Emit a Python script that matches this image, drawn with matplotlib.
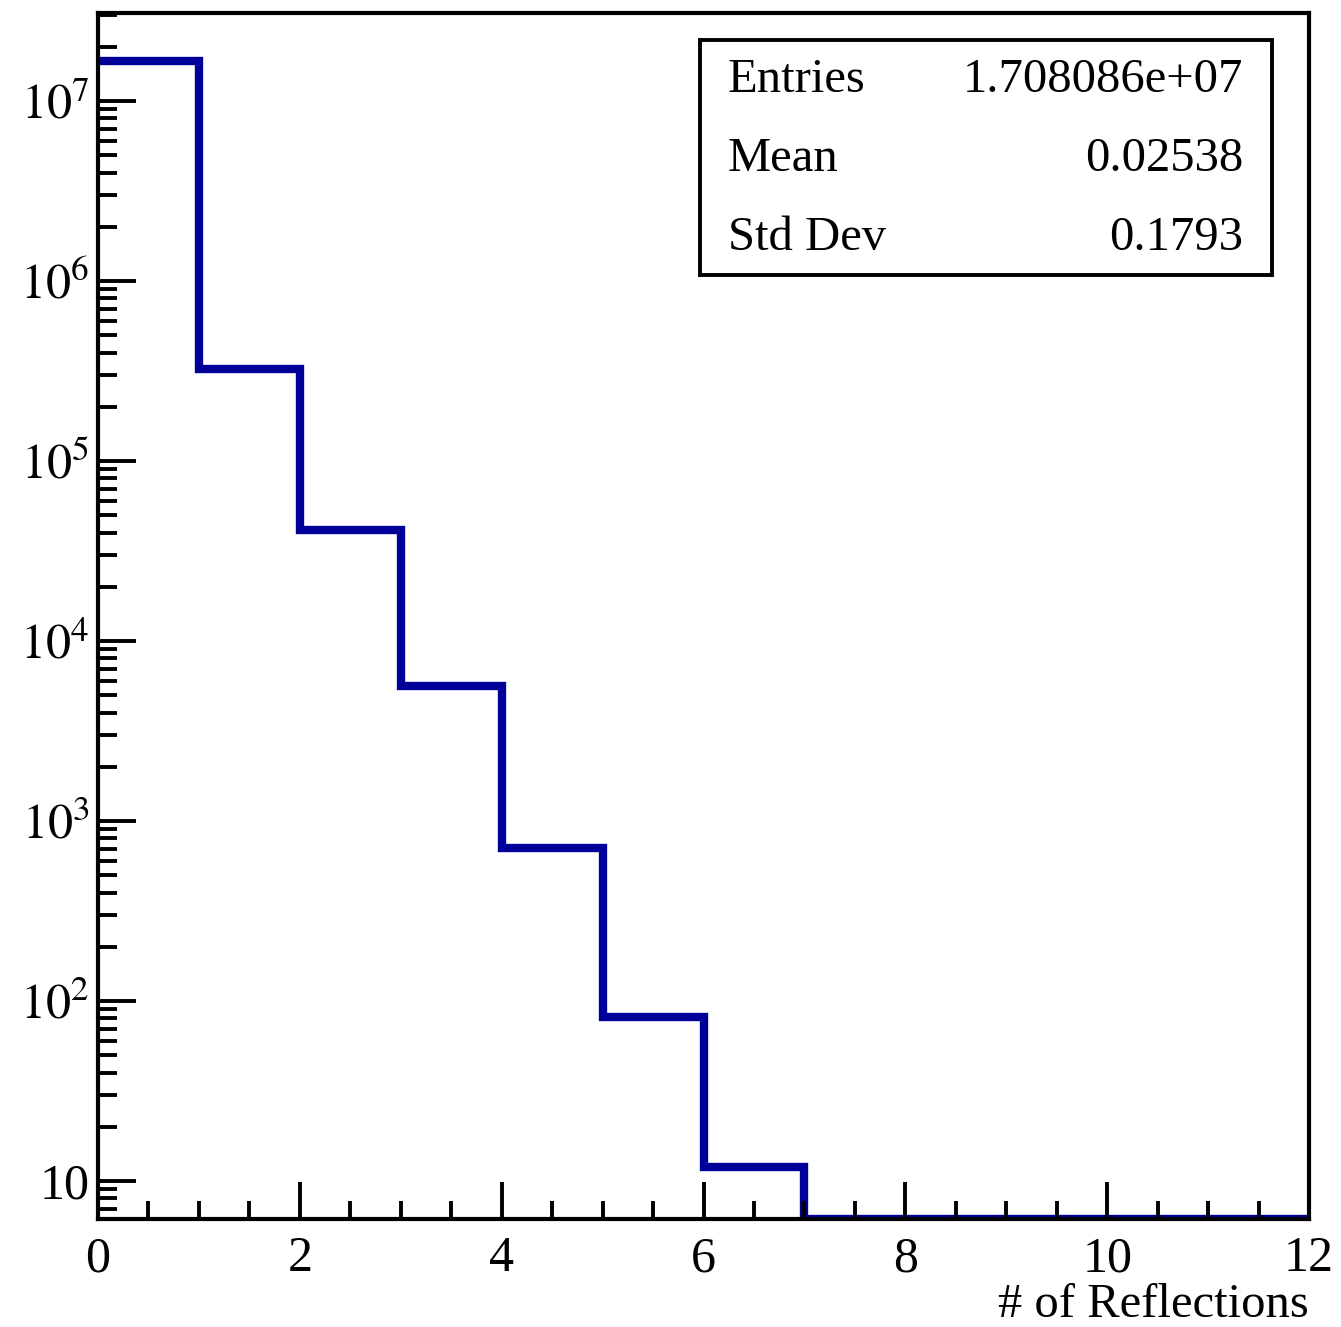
import numpy as np
import matplotlib
matplotlib.use("Agg")
import matplotlib.pyplot as plt
from matplotlib.ticker import FixedLocator, FuncFormatter, MultipleLocator, LogLocator
from matplotlib.patches import Rectangle

# histogram content: number of reflections, 12 bins from 0 to 12
edges = np.arange(0, 13, 1)
counts = [1.67e7, 3.25e5, 4.14e4, 5.6e3, 708, 81, 12, 0, 0, 0, 0, 0]

stat_names = ["Entries", "Mean", "Std Dev"]
stat_values = ["1.708086e+07", "0.02538", "0.1793"]

xlabel = "# of Reflections"
ymin, ymax = 6.15, 3.08e7

plt.rcParams["font.family"] = ["Liberation Serif", "DejaVu Serif"]
plt.rcParams["mathtext.fontset"] = "stix"

fig = plt.figure(figsize=(13.41, 13.27), dpi=100)
ax = fig.add_axes([98 / 1341, 1 - 1219 / 1327, (1309 - 98) / 1341, (1219 - 13) / 1327])

# zero bins sit on the lower edge of the frame, like ROOT does
drawn = np.clip(np.array(counts, dtype=float), ymin, None)
ax.stairs(drawn, edges, baseline=None, color="#000099", lw=6)

ax.set_yscale("log")
ax.set_xlim(0, 12)
ax.set_ylim(ymin, ymax)

ax.xaxis.set_major_locator(MultipleLocator(2))
ax.xaxis.set_minor_locator(MultipleLocator(0.5))
ax.yaxis.set_major_locator(FixedLocator([10.0 ** e for e in range(1, 8)]))
ax.yaxis.set_minor_locator(LogLocator(base=10, subs=np.arange(2, 10)))
ax.yaxis.set_minor_formatter(FuncFormatter(lambda v, p: ""))


def ylab(v, pos):
    e = int(round(np.log10(v)))
    if e == 1:
        return "10"
    return r"$10^{%d}$" % e


ax.yaxis.set_major_formatter(FuncFormatter(ylab))

for sp in ax.spines.values():
    sp.set_linewidth(3)

ax.tick_params(which="both", direction="in", top=False, right=False, width=2.8)
ax.tick_params(axis="x", which="major", length=27, pad=12, labelsize=36)
ax.tick_params(axis="x", which="minor", length=13)
ax.tick_params(axis="y", which="major", length=27, pad=6, labelsize=36)
ax.tick_params(axis="y", which="minor", length=14)

fig.text(1309 / 1341, 1 - 1305 / 1327, xlabel, ha="right", va="center", fontsize=35)

# stats box
fig.patches.append(Rectangle((700 / 1341, 1 - 275 / 1327), 572 / 1341, 235 / 1327,
                             transform=fig.transFigure, fill=False, lw=2.8, ec="black"))
for i, (n, v) in enumerate(zip(stat_names, stat_values)):
    yy = 1 - (80 + 79 * i) / 1327
    fig.text(728 / 1341, yy, n, ha="left", va="center", fontsize=35)
    fig.text(1243 / 1341, yy, v, ha="right", va="center", fontsize=35)

fig.savefig("out.png", dpi=100)
